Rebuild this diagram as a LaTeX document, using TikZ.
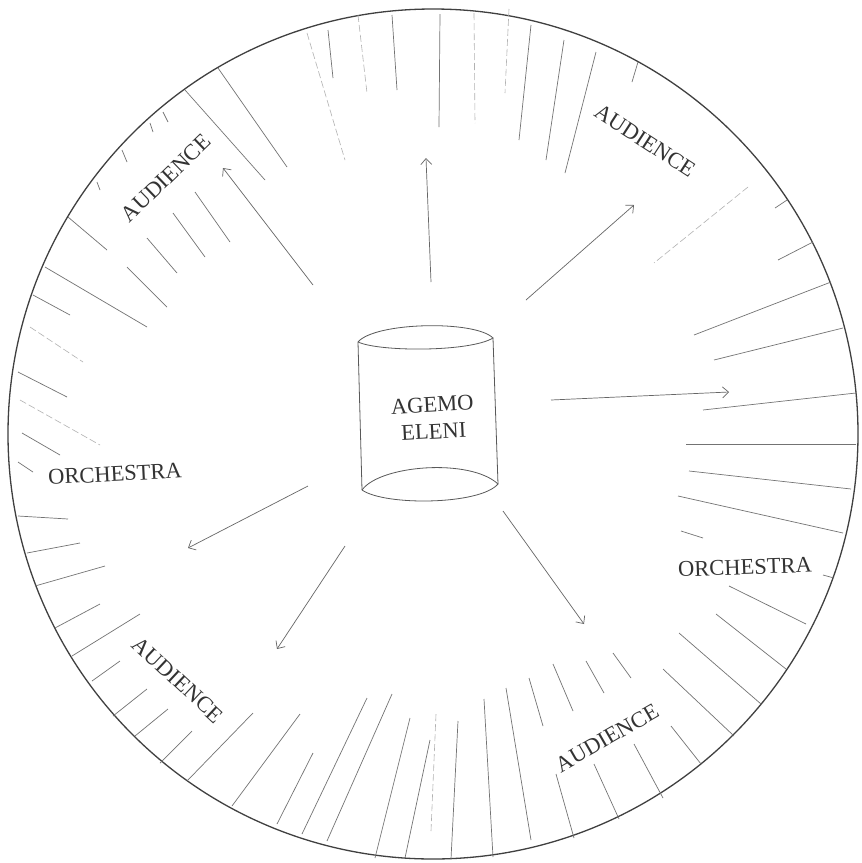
\documentclass[tikz,border=0pt]{standalone}
\usepackage{fontspec}
\setmainfont{Liberation Serif}
\usetikzlibrary{arrows.meta}
\tikzset{
  rim/.style={draw=black!75, line width=1.3pt},
  hatch/.style={draw=black!55, line width=0.7pt},
  faint/.style={draw=black!30, line width=0.6pt, dash pattern=on 7pt off 3pt},
  arr/.style={draw=black!60, line width=0.7pt, -{Straight Barb[length=6pt,width=11pt]}},
  cyl/.style={draw=black!65, line width=0.8pt},
  lbl/.style={text=black!80, font=\fontsize{22.5}{27}\selectfont, inner sep=0pt},
}
\begin{document}
\begin{tikzpicture}[x=1pt,y=-1pt]
\useasboundingbox (0,0) rectangle (862,863);
\fill[white] (0,0) rectangle (862,863);
% outer circle
\draw[rim] (433,434) circle (425);
% hatch lines
\foreach \a/\b/\c/\d in {
 392/15/397/90, 440/14/439/127, 531/25/519/140, 564/40/546/160, 596/52/565/173, 638/62/632/82,
 328/30/333/78, 218/68/287/167, 185/90/265/180, 195/192/230/242, 173/213/205/257, 147/238/177/273,
 127/267/167/307, 68/217/107/250, 45/267/147/327, 33/295/70/315, 18/372/67/397, 22/433/60/455,
 18/462/33/472, 122/150/127/162, 150/123/153/132, 163/112/168/122, 97/182/100/190,
 18/516/68/519, 27/553/80/543, 35/586/105/566, 55/628/100/604, 72/656/140/614, 92/681/120/661,
 113/716/147/689, 135/736/168/709, 160/763/192/731, 187/781/253/713, 232/806/300/714,
 277/824/313/753, 302/834/367/698, 327/841/392/694, 375/858/410/718, 405/858/430/740,
 451/859/458/721, 493/857/484/699, 531/840/506/688, 543/726/529/678, 573/711/553/664,
 574/838/556/774, 604/693/586/661, 619/819/594/764, 631/678/613/653, 663/798/634/744,
 701/764/671/726, 734/736/663/669, 761/704/679/633, 786/669/716/614, 806/624/729/586,
 834/578/823/575, 703/538/681/531, 843/533/678/496, 851/489/689/471, 856/444/686/444,
 856/393/703/410, 843/328/714/360, 831/282/694/335, 813/242/778/260, 787/200/775/208}
 \draw[hatch] (\a,\b) -- (\c,\d);
\foreach \a/\b/\c/\d in {
 474/13/475/123, 509/9/505/93, 358/15/367/93, 307/33/345/160, 30/327/83/362, 20/400/100/445,
 748/187/654/263, 431/831/436/714}
 \draw[faint] (\a,\b) -- (\c,\d);
% cylinder
\draw[cyl] (358,342) .. controls (375,322) and (475,320) .. (493,338)
           .. controls (470,352) and (380,352) .. (358,342);
\draw[cyl] (358,342) -- (362,490);
\draw[cyl] (493,338) -- (498,484);
\draw[cyl] (362,490) .. controls (380,465) and (470,458) .. (498,484)
           .. controls (480,505) and (385,506) .. (362,490);
\node[lbl, align=center, rotate=3] (agemo) at (433,418) {AGEMO\\ELENI};
% labels
\node[lbl, rotate=44]  (aud1) at (166,178) {AUDIENCE};
\node[lbl, rotate=-33] (aud2) at (645,141) {AUDIENCE};
\node[lbl, rotate=-43] (aud3) at (178,680) {AUDIENCE};
\node[lbl, rotate=30]  (aud4) at (607,738) {AUDIENCE};
\node[lbl, rotate=3]   (orc1) at (115,474) {ORCHESTRA};
\node[lbl, rotate=2]   (orc2) at (745,567) {ORCHESTRA};
% arrows
\coordinate (s1) at (431,282); \coordinate (e1) at (426,158);
\coordinate (s2) at (313,285); \coordinate (e2) at (223,168);
\coordinate (s3) at (526,300); \coordinate (e3) at (634,205);
\coordinate (s4) at (551,400); \coordinate (e4) at (729,392);
\coordinate (s5) at (503,511); \coordinate (e5) at (584,624);
\coordinate (s6) at (345,546); \coordinate (e6) at (277,649);
\coordinate (s7) at (308,486); \coordinate (e7) at (188,548);
\foreach \i in {1,...,7} \draw[arr] (s\i) -- (e\i);
\end{tikzpicture}
\end{document}
